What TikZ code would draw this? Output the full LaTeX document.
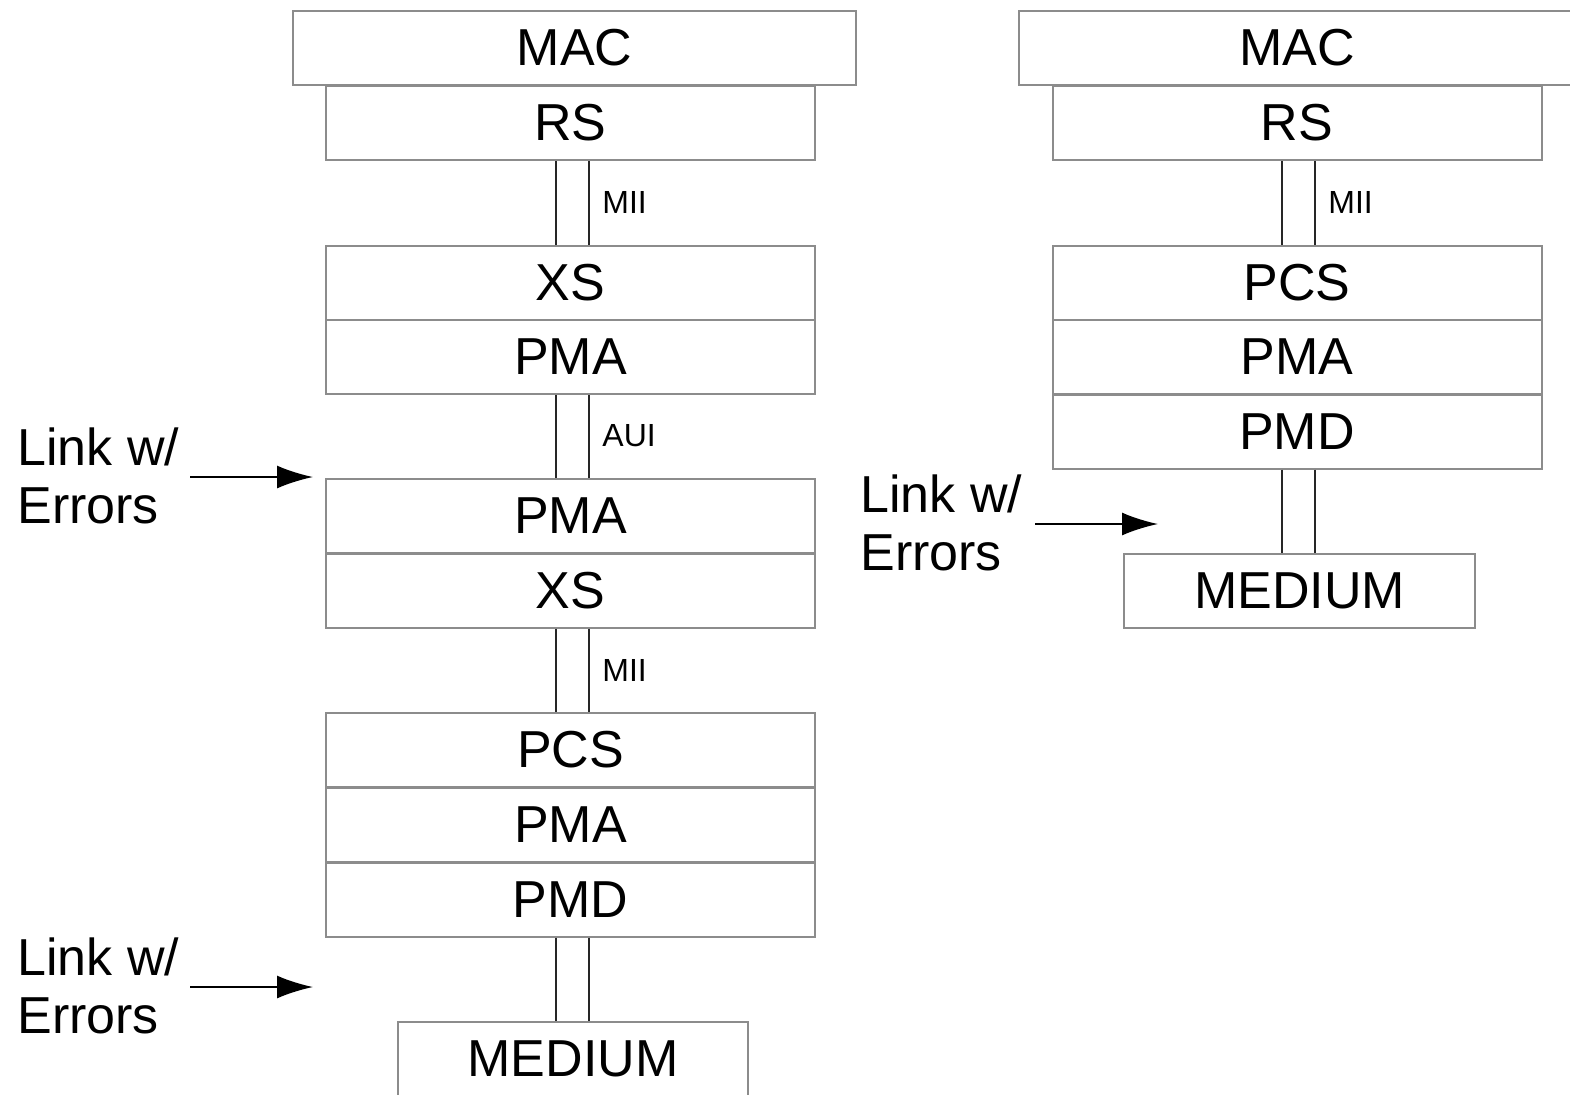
\documentclass[tikz,border=0pt]{standalone}
\usepackage{fontspec}
\setmainfont{Liberation Sans}
\usetikzlibrary{calc,arrows.meta}
\newcommand{\wirepair}[2]{%
  \path ($(#1.south)+(-15,0)$) coordinate (wpA) ($(#1.south)+(18,0)$) coordinate (wpB);
  \draw[wire] (wpA) -- (wpA |- #2.north);
  \draw[wire] (wpB) -- (wpB |- #2.north);
}
\begin{document}
\begin{tikzpicture}[x=0.5pt,y=-0.5pt,
  layer/.style={draw=black!45, line width=1pt, minimum height=37pt, minimum width=244.5pt,
    inner sep=0pt, font=\fontsize{26}{30}\selectfont},
  wire/.style={line width=1pt, draw=black!85},
  iface/.style={anchor=west, inner sep=0pt, font=\fontsize{16}{18}\selectfont},
  linklabel/.style={anchor=north west, align=left, inner sep=0pt, font=\fontsize{26}{29}\selectfont},
  arr/.style={line width=1pt, -{Latex[length=18pt,width=11.5pt]}}]
\useasboundingbox (0,0) rectangle (1570,1094);

% ---------- left stack ----------
\node[layer, minimum width=281.5pt] (lmac) at (574.5,48) {MAC};
\node[layer] (lrs)   at (570.5,123)   {RS};
\node[layer] (lxs1)  at (570.5,282.5) {XS};
\node[layer] (lpma1) at (570.5,357)   {PMA};
\node[layer] (lpma2) at (570.5,516)   {PMA};
\node[layer] (lxs2)  at (570.5,590.5) {XS};
\node[layer] (lpcs)  at (570.5,750)   {PCS};
\node[layer] (lpma3) at (570.5,824.5) {PMA};
\node[layer] (lpmd)  at (570.5,899.5) {PMD};
\node[layer, minimum width=175pt] (lmed) at (573,1059) {MEDIUM};

\wirepair{lrs}{lxs1}
\wirepair{lpma1}{lpma2}
\wirepair{lxs2}{lpcs}
\wirepair{lpmd}{lmed}

\node[iface] (lmii1) at (602,202) {MII};
\node[iface] (laui)  at (602,436) {AUI};
\node[iface] (lmii2) at (602,670) {MII};

\node[linklabel] (lk1) at (17,427) {Link w/\\Errors};
\coordinate (lk1s) at (190,477);
\coordinate (lk1e) at (313,477);
\draw[arr] (lk1s) -- (lk1e);

\node[linklabel] (lk2) at (17,937) {Link w/\\Errors};
\coordinate (lk2s) at (190,987);
\coordinate (lk2e) at (313,987);
\draw[arr] (lk2s) -- (lk2e);

% ---------- right stack ----------
\node[layer, minimum width=278pt] (rmac) at (1297,48) {MAC};
\node[layer] (rrs)  at (1297,123)   {RS};
\node[layer] (rpcs) at (1297,282.5) {PCS};
\node[layer] (rpma) at (1297,357)   {PMA};
\node[layer] (rpmd) at (1297,431.5) {PMD};
\node[layer, minimum width=175.5pt] (rmed) at (1299.5,590.5) {MEDIUM};

\wirepair{rrs}{rpcs}
\wirepair{rpmd}{rmed}
\node[iface] (rmii) at (1328,202) {MII};

\node[linklabel] (rk) at (860,474) {Link w/\\Errors};
\coordinate (rks) at (1035,524);
\coordinate (rke) at (1158,524);
\draw[arr] (rks) -- (rke);
\end{tikzpicture}
\end{document}
